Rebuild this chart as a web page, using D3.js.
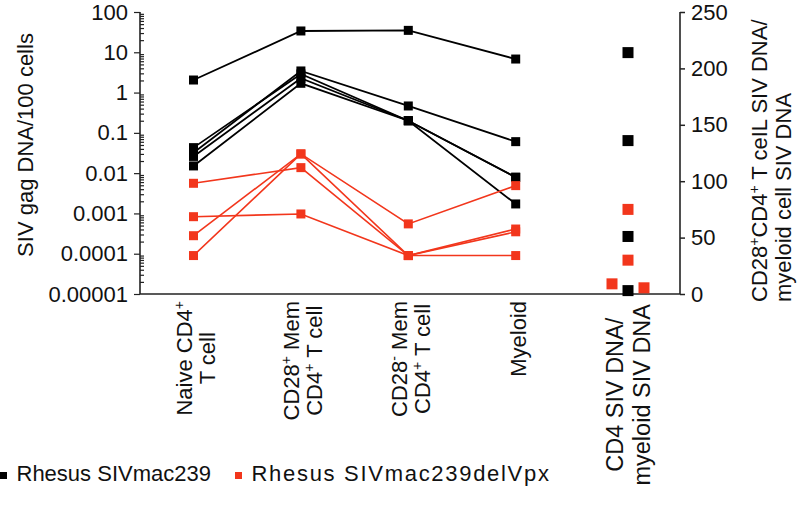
<!DOCTYPE html>
<html><head><meta charset="utf-8">
<script src="https://cdn.jsdelivr.net/npm/d3@7/dist/d3.min.js"></script>
<style>
body{margin:0;background:#fff}
text{font-family:"Liberation Sans",Arial,Helvetica,sans-serif;fill:#111}
</style>
</head><body>
<svg id="chart" width="800" height="505"></svg>
<script>
// ---------- data ----------
const categories = ["Naive", "CD28pos", "CD28neg", "Myeloid"];
const categoryLabels = [
  [["Naive CD4", "+"], ["T cell"]],
  [["CD28", "+", " Mem"], ["CD4", "+", " T cell"]],
  [["CD28", "-", " Mem"], ["CD4", "+", " T cell"]],
  [["Myeloid"]]
];
const ratioLabel = [["CD4 SIV DNA/"], ["myeloid SIV DNA"]];
// SIVmac239 animals (black), values per 100 cells across categories
const mac239 = [
  [2.05, 33.8, 35, 6.8],
  [0.032, 3.44, 0.465, 0.0605],
  [0.043, 2.9, 0.20, 0.0079],
  [0.026, 2.27, 0.20, 0.0079],
  [0.0151, 1.70, 0.20, 0.00172]
];
// SIVmac239delVpx animals (red)
const delVpx = [
  [0.0056, 0.0137, 0.00009, 0.00035],
  [0.00083, 0.00097, 0.00009, 0.00009],
  [0.00028, 0.030, 0.00055, 0.0049],
  [0.00009, 0.030, 0.00009, 0.00041]
];
// Ratio CD28+CD4+ T cell SIV DNA / myeloid SIV DNA (right axis)
const ratioMac239 = [214, 136, 51, 3];
const ratioDelVpx = [75, 30, 9, 5.5];
const yTickValues = [100, 10, 1, 0.1, 0.01, 0.001, 0.0001, 0.00001];
const yTickLabels = ["100", "10", "1", "0.1", "0.01", "0.001", "0.0001", "0.00001"];
const yRightTicks = [0, 50, 100, 150, 200, 250];
const seriesNames = ["Rhesus SIVmac239", "Rhesus SIVmac239delVpx"];
const seriesColors = ["#000000", "#f2361c"];

// ---------- layout ----------
const svg = d3.select("#chart");
const pLeft = 140, pRight = 680, pTop = 12, pBottom = 294;
const x = d3.scalePoint().domain(categories).range([193.5, 515.7]);
const xRatio = d3.scalePoint().domain(["ratio"]).range([628, 628]);
const y = d3.scaleLog().domain([1e-5, 100]).range([pBottom, pTop]);
const yr = d3.scaleLinear().domain([0, 250]).range([pBottom, pTop]);
const FS = 22;
const FF = '"Liberation Sans",Arial,sans-serif';

// left axis major
const gL = svg.append("g").attr("transform", `translate(${pLeft},0)`)
  .call(d3.axisLeft(y).tickValues(yTickValues).tickFormat((d, i) => yTickLabels[i])
    .tickSize(6).tickSizeOuter(0).tickPadding(6));
gL.select(".domain").remove();
// minor ticks
const minor = y.ticks().filter(v => !yTickValues.some(t => Math.abs(t - v) / t < 1e-6));
const gM = svg.append("g").attr("transform", `translate(${pLeft},0)`)
  .call(d3.axisLeft(y).tickValues(minor).tickFormat("").tickSize(-4).tickSizeOuter(0));
gM.select(".domain").remove();
gM.selectAll("text").remove();
svg.selectAll("g .tick line").attr("stroke", "#222").attr("stroke-width", 1.2);
gL.selectAll("text").attr("font-size", FS).attr("font-family", FF).attr("fill", "#111");
svg.append("line").attr("x1", pLeft).attr("x2", pLeft).attr("y1", pTop).attr("y2", pBottom)
  .attr("stroke", "#222").attr("stroke-width", 1.6);

// right axis
const gR = svg.append("g").attr("transform", `translate(${pRight},0)`)
  .call(d3.axisRight(yr).tickValues(yRightTicks).tickSize(5).tickSizeOuter(0).tickPadding(6));
gR.select(".domain").remove();
gR.selectAll("line").attr("stroke", "#222").attr("stroke-width", 1.5);
gR.selectAll("text").attr("font-size", FS).attr("font-family", FF).attr("fill", "#111");
svg.append("line").attr("x1", pRight).attr("x2", pRight).attr("y1", pTop).attr("y2", pBottom)
  .attr("stroke", "#222").attr("stroke-width", 1.6);

// bottom axis line
svg.append("line").attr("x1", pLeft).attr("x2", pRight).attr("y1", pBottom).attr("y2", pBottom)
  .attr("stroke", "#222").attr("stroke-width", 1.6);

// left axis title
svg.append("text").attr("transform", "translate(33,145) rotate(-90)")
  .attr("text-anchor", "middle").attr("font-size", FS).text("SIV gag DNA/100 cells");

// helper: fill a text element with parts, superscripting "+" / "-"
function fillParts(t, parts) {
  let pendingDy = 0;
  parts.forEach(p => {
    if (p === "+" || p === "-") {
      t.append("tspan").attr("font-size", 14).attr("dy", -8 + pendingDy).text(p);
      pendingDy = 8;
    } else {
      const ts = t.append("tspan").text(p);
      if (pendingDy) ts.attr("dy", pendingDy);
      pendingDy = 0;
    }
  });
}

// right axis title (two lines, start-aligned at bottom)
const rt = svg.append("g").attr("transform", "translate(767,302) rotate(-90)");
fillParts(rt.append("text").attr("font-size", FS), ["CD28", "+", "CD4", "+", " T ceIL SIV DNA/"]);
rt.append("text").attr("x", 0).attr("y", 24).attr("font-size", FS).text("myeloid cell SIV DNA");

// category labels
function drawLabel(cx, lines, lineH, fs, topY) {
  const g = svg.append("g").attr("transform", `translate(${cx},${topY}) rotate(-90)`);
  const n = lines.length;
  const texts = lines.map((parts, i) => {
    const t = g.append("text").attr("font-size", fs).attr("text-anchor", "middle")
      .attr("y", 8 - (n - 1) * lineH / 2 + i * lineH);
    fillParts(t, parts);
    return t;
  });
  const maxW = d3.max(texts, t => t.node().getComputedTextLength());
  texts.forEach(t => t.attr("x", -maxW / 2));
}
categories.forEach((c, i) => drawLabel(x(c) + 2, categoryLabels[i], 23, FS, 301));
drawLabel(xRatio("ratio"), ratioLabel, 27, 23.5, 304);

// lines
const line = d3.line().x((d, i) => x(categories[i])).y(d => y(d));
function drawSeries(data, color, sw) {
  const g = svg.append("g");
  g.selectAll("path").data(data).join("path")
    .attr("d", line).attr("fill", "none").attr("stroke", color).attr("stroke-width", sw);
  const pts = data.flatMap(row => row.map((v, i) => ({ v, i })));
  const s = 9;
  g.selectAll("rect").data(pts).join("rect")
    .attr("x", d => x(categories[d.i]) - s / 2).attr("y", d => y(d.v) - s / 2)
    .attr("width", s).attr("height", s).attr("fill", color);
}
drawSeries(mac239, seriesColors[0], 1.8);
drawSeries(delVpx, seriesColors[1], 1.6);

// ratio scatter with simple collision jitter
const rs = 11;
const ratioPts = ratioMac239.map(v => ({ v, c: seriesColors[0] }))
  .concat(ratioDelVpx.map(v => ({ v, c: seriesColors[1] })));
const placed = [];
ratioPts.forEach(p => {
  const py = yr(p.v);
  for (const off of [0, -16, 16, -32, 32]) {
    const px = xRatio("ratio") + off;
    if (!placed.some(q => Math.abs(q.px - px) < rs && Math.abs(q.py - py) < rs)) {
      placed.push({ px, py, c: p.c }); break;
    }
  }
});
svg.append("g").selectAll("rect").data(placed).join("rect")
  .attr("x", d => d.px - rs / 2).attr("y", d => d.py - rs / 2)
  .attr("width", rs).attr("height", rs).attr("fill", d => d.c);

// legend
const lg = svg.append("g");
const legX = [0, 235];
const legSpacing = [0, 1.7];
seriesNames.forEach((n, i) => {
  lg.append("rect").attr("x", legX[i]).attr("y", 472).attr("width", 7).attr("height", 7).attr("fill", seriesColors[i]);
  lg.append("text").attr("x", legX[i] + 16.5).attr("y", 481).attr("font-size", FS)
    .attr("letter-spacing", legSpacing[i]).text(n);
});
</script>
</body></html>
